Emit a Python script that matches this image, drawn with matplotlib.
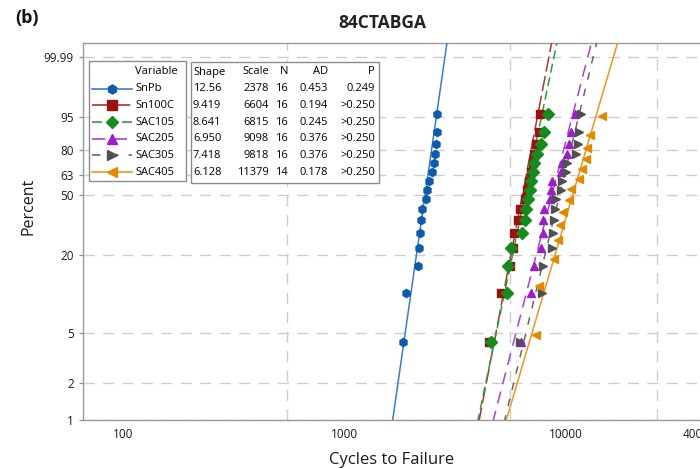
import numpy as np
import matplotlib.pyplot as plt
from matplotlib.lines import Line2D
from matplotlib.patches import Rectangle
from matplotlib.ticker import FixedLocator, NullFormatter, NullLocator

plt.rcParams['font.family'] = ['Open Sans', 'DejaVu Sans']

# Weibull fit table (Minitab output)
variables = ['SnPb', 'Sn100C', 'SAC105', 'SAC205', 'SAC305', 'SAC405']
shape = [12.56, 9.419, 8.641, 6.950, 7.418, 6.128]
scale = [2378, 6604, 6815, 9098, 9818, 11379]
n_obs = [16, 16, 16, 16, 16, 14]
ad = [0.453, 0.194, 0.245, 0.376, 0.376, 0.178]
p_val = ['0.249', '>0.250', '>0.250', '>0.250', '>0.250', '>0.250']

# cycles to failure, sorted
cyc_snpb = [1833, 1899, 2142, 2165, 2188, 2220, 2243, 2321, 2345, 2402,
            2489, 2540, 2557, 2575, 2602, 2621]
cyc_sn100c = [4467, 5062, 5558, 5734, 5794, 6040, 6167, 6496, 6633, 6772,
              6914, 7060, 7134, 7284, 7513, 7592]
cyc_sac105 = [4596, 5388, 5444, 5616, 6344, 6516, 6598, 6736, 6843, 6950,
              7060, 7171, 7360, 7672, 7916, 8253]
cyc_sac205 = [6232, 6914, 7134, 7672, 7833, 7875, 7941, 8487, 8511, 8663,
              9445, 9612, 10125, 10337, 10512, 10923]
cyc_sac305 = [6167, 7752, 7833, 8663, 8753, 8808, 8937, 8966, 9445, 9612,
              9947, 10125, 11036, 11328, 11423, 11627]
cyc_sac405 = [7284, 7537, 8808, 9155, 9347, 9643, 10295, 10556, 11388, 11834,
              12246, 12463, 12810, 14571]
cycles = [cyc_snpb, cyc_sn100c, cyc_sac105, cyc_sac205, cyc_sac305, cyc_sac405]

y_ticks = [1, 2, 5, 20, 50, 63, 80, 95, 99.99]
x_ticks = [100, 1000, 10000, 40000]
x_grid = [100, 550, 1000, 5600, 10000, 25700]

mcolors = ['#0d5bab', '#9c1010', '#168a1c', '#9a1ecb', '#505050', '#e08a00']
lcolors = ['#3a7cc8', '#b03232', '#2b9e3c', '#a940d8', '#666666', '#e8981e']
markers = ['h', 's', 'D', '^', '>', '<']
lstyles = ['-', (0, (10, 3)), (0, (6, 3)), (0, (8, 5)), (0, (5, 6)), '-']


def fwd(p):
    p = np.clip(np.asarray(p, dtype=float), 1e-9, 100 - 1e-9)
    return np.log(-np.log(1 - p / 100.0))


def inv(w):
    return 100.0 * (1 - np.exp(-np.exp(np.asarray(w, dtype=float))))


W, H = 700, 469
fig = plt.figure(figsize=(7, 4.69), dpi=100)


def fx(x):
    return x / W


def fy(y):
    return 1 - y / H


ax = fig.add_axes([fx(83), fy(420), (710 - 83) / W, (420 - 43) / H])
ax.set_xscale('log')
ax.set_yscale('function', functions=(fwd, inv))

for i, name in enumerate(variables):
    x = np.array(cycles[i], dtype=float)
    n = len(x)
    pct = 100 * (np.arange(1, n + 1) - 0.3) / (n + 0.4)   # median ranks
    w = np.array([fwd(1.0) - 0.05, 2.7])
    ax.plot(scale[i] * np.exp(w / shape[i]), inv(w), color=lcolors[i],
            ls=lstyles[i], lw=1.1, zorder=3)
    ax.plot(x, pct, ls='none', marker=markers[i], ms=5.8, color=mcolors[i],
            mec=mcolors[i], zorder=4)

ax.set_xlim(66, 44600)
ax.set_ylim(1, inv(2.483))

ax.xaxis.set_major_locator(FixedLocator(x_ticks))
ax.xaxis.set_major_formatter(plt.FuncFormatter(lambda v, _: f'{v:.0f}'))
ax.xaxis.set_minor_locator(FixedLocator(x_grid))
ax.xaxis.set_minor_formatter(NullFormatter())
ax.yaxis.set_major_locator(FixedLocator(y_ticks))
ax.yaxis.set_major_formatter(plt.FuncFormatter(lambda v, _: f'{v:g}'))
ax.yaxis.set_minor_locator(NullLocator())

gkw = dict(color='#cdcdcd', ls=(0, (8, 6)), lw=1.0)
ax.grid(axis='y', which='major', **gkw)
ax.grid(axis='x', which='minor', **gkw)
ax.tick_params(axis='both', which='major', labelsize=8.5, colors='#8a8a8a',
               labelcolor='#1a1a1a', length=3, width=0.8)
ax.tick_params(axis='x', which='minor', length=0)
ax.tick_params(axis='x', which='major', length=0, pad=6)
for s in ax.spines.values():
    s.set_color('#9a9a9a')
    s.set_linewidth(1.0)

fig.text(fx(382), fy(23), '84CTABGA', ha='center', va='center',
         fontsize=12.5, fontweight='bold', color='#222222')
fig.text(fx(27), fy(18), '(b)', ha='center', va='center',
         fontsize=13, fontweight='bold', color='#111111')
fig.text(fx(28), fy(206), 'Percent', ha='center', va='center', rotation=90,
         fontsize=11.5, color='#1a1a1a')
fig.text(fx(392), fy(460), 'Cycles to Failure', ha='center', va='center',
         fontsize=12, color='#1a1a1a')

# legend box and fit table
fs = 8
fig.add_artist(Rectangle((fx(89), fy(181)), (186 - 89) / W, (181 - 61) / H,
                         transform=fig.transFigure, fc='white', ec='#8c8c8c',
                         lw=1.0, zorder=5))
fig.add_artist(Rectangle((fx(191), fy(183)), (379 - 191) / W, (183 - 62) / H,
                         transform=fig.transFigure, fc='white', ec='#8c8c8c',
                         lw=1.0, zorder=5))
row0 = 72
step = 16.7
fig.text(fx(135), fy(row0), 'Variable', ha='left', va='center', fontsize=fs, zorder=6)
heads = [('Shape', 193, 'left'), ('Scale', 269, 'right'), ('N', 288, 'right'),
         ('AD', 328, 'right'), ('P', 375, 'right')]
for t, xx, al in heads:
    fig.text(fx(xx), fy(row0), t, ha=al, va='center', fontsize=fs, zorder=6)
for i, name in enumerate(variables):
    yy = fy(row0 + step * (i + 1))
    fig.add_artist(Line2D([fx(92), fx(132)], [yy, yy], transform=fig.transFigure,
                          color=lcolors[i], ls=lstyles[i], lw=1.2, zorder=6))
    fig.add_artist(Line2D([fx(112)], [yy], transform=fig.transFigure, ls='none',
                          marker=markers[i], ms=6.5, color=mcolors[i], zorder=7))
    fig.text(fx(135), yy, name, ha='left', va='center', fontsize=fs, zorder=6)
    vals = [(f'{shape[i]:.4g}' if shape[i] != 6.950 else '6.950', 193, 'left'),
            (f'{scale[i]}', 269, 'right'), (f'{n_obs[i]}', 288, 'right'),
            (f'{ad[i]:.3f}', 328, 'right'), (p_val[i], 375, 'right')]
    for t, xx, al in vals:
        fig.text(fx(xx), yy, t, ha=al, va='center', fontsize=fs, zorder=6)

fig.savefig('out.png', dpi=100)
